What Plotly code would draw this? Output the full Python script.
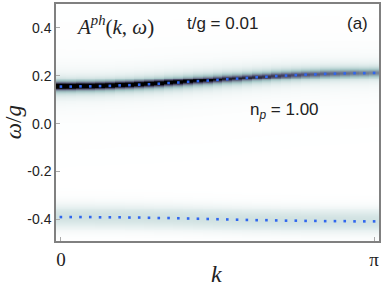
import numpy as np
import plotly.graph_objects as go

# ---- data ----
n_k = 33
upper_energy = [0.155, 0.155, 0.156, 0.156, 0.157, 0.158, 0.160, 0.161, 0.163, 0.165, 0.167,
                0.170, 0.172, 0.175, 0.178, 0.180, 0.183, 0.186, 0.188, 0.191, 0.194, 0.196,
                0.199, 0.201, 0.203, 0.205, 0.206, 0.208, 0.209, 0.210, 0.211, 0.211, 0.212]
lower_energy = [-0.390, -0.390, -0.390, -0.390, -0.391, -0.391, -0.391, -0.392, -0.392, -0.393,
                -0.394, -0.394, -0.395, -0.396, -0.397, -0.398, -0.399, -0.400, -0.401, -0.402,
                -0.403, -0.403, -0.404, -0.405, -0.405, -0.406, -0.406, -0.407, -0.407, -0.407,
                -0.408, -0.408, -0.408]
upper_peak = [1.50, 1.47, 1.43, 1.39, 1.35, 1.31, 1.27, 1.23, 1.19, 1.15, 1.11, 1.07, 1.03,
              0.99, 0.95, 0.91, 0.87, 0.83, 0.79, 0.75, 0.72, 0.69, 0.66, 0.63, 0.60, 0.57,
              0.54, 0.52, 0.50, 0.48, 0.46, 0.44, 0.42]
upper_width = [0.0100, 0.0100, 0.0101, 0.0102, 0.0103, 0.0104, 0.0105, 0.0107, 0.0109, 0.0111,
               0.0113, 0.0115, 0.0117, 0.0119, 0.0121, 0.0123, 0.0125, 0.0127, 0.0129, 0.0131,
               0.0133, 0.0135, 0.0137, 0.0139, 0.0141, 0.0143, 0.0148, 0.0150, 0.0152, 0.0154,
               0.0156, 0.0158, 0.0160]
lower_peak = [0.12] * n_k
lower_width = 0.035

y_ticks = [-0.4, -0.2, 0.0, 0.2, 0.4]
y_ticklabels = ["-0.4", "-0.2", "0.0", "0.2", "0.4"]
x_ticklabels = ["0", "π"]

k = np.arange(n_k) * np.pi / (n_k - 1)
w = np.arange(-0.49, 0.5001, 0.004)
A = np.zeros((len(w), n_k))
for j in range(n_k):
    A[:, j] += upper_peak[j] / (1.0 + ((w - upper_energy[j]) / upper_width[j]) ** 2)
    A[:, j] += lower_peak[j] * np.exp(-0.5 * ((w - lower_energy[j]) / lower_width) ** 2)

bone_r = [[0.0, "#ffffff"], [0.254, "#a6c7c7"], [0.635, "#515171"], [1.0, "#000000"]]

fig = go.Figure()
fig.add_trace(go.Heatmap(x=k, y=w, z=A, colorscale=bone_r, zmin=0, zmax=0.9,
                         showscale=False, zsmooth=False, hoverinfo="skip"))
fig.add_trace(go.Scatter(x=k, y=upper_energy, mode="markers",
                         marker=dict(size=2.6, color="#2f66ee", symbol="square"), showlegend=False))
fig.add_trace(go.Scatter(x=k, y=lower_energy, mode="markers",
                         marker=dict(size=2.6, color="#2f66ee", symbol="square"), showlegend=False))

dk = np.pi / (n_k - 1) / 2
axis_common = dict(showline=True, linecolor="#808080", linewidth=1.5, mirror=True,
                   ticks="inside", ticklen=4, tickcolor="#aaaaaa", showgrid=False, zeroline=False)
fig.update_xaxes(range=[-dk, np.pi + dk], tickvals=[0, np.pi], ticktext=x_ticklabels,
                 tickfont=dict(family="Liberation Serif", size=19, color="#222"), **axis_common)
fig.update_yaxes(range=[-0.49, 0.50], tickvals=y_ticks, ticktext=y_ticklabels,
                 tickfont=dict(family="Liberation Sans", size=14, color="#222"), **axis_common)

def px(x):
    return (x - 56) / 325.0

def py(y):
    return (241 - y) / 237.0

serif = dict(family="Liberation Serif", size=21, color="#222")
sans = dict(family="Liberation Sans", size=17, color="#222")
ann = [
    dict(x=px(115), y=py(25), text="<i>A</i><sup><i>ph</i></sup>(<i>k</i>, <i>ω</i>)", font=serif),
    dict(x=px(224), y=py(24), text="t/g = 0.01", font=sans),
    dict(x=px(359), y=py(24), text="(a)", font=sans),
    dict(x=px(286), y=py(111), text="n<sub><i>p</i></sub> = 1.00", font=sans),
    dict(x=px(13), y=py(122), text="<i>ω</i>/<i>g</i>", font=dict(family="Liberation Serif", size=23, color="#222"), textangle=-90),
    dict(x=px(217), y=py(274), text="<i>k</i>", font=dict(family="Liberation Serif", size=24, color="#222")),
]
for a in ann:
    a.update(xref="paper", yref="paper", showarrow=False, xanchor="center", yanchor="middle")
fig.update_layout(annotations=ann, width=382, height=287, plot_bgcolor="white", paper_bgcolor="white",
                  margin=dict(l=56, r=1, t=4, b=46))
fig.write_html("out.html", config={"displayModeBar": False},
               post_script="document.body.style.margin='0';")
